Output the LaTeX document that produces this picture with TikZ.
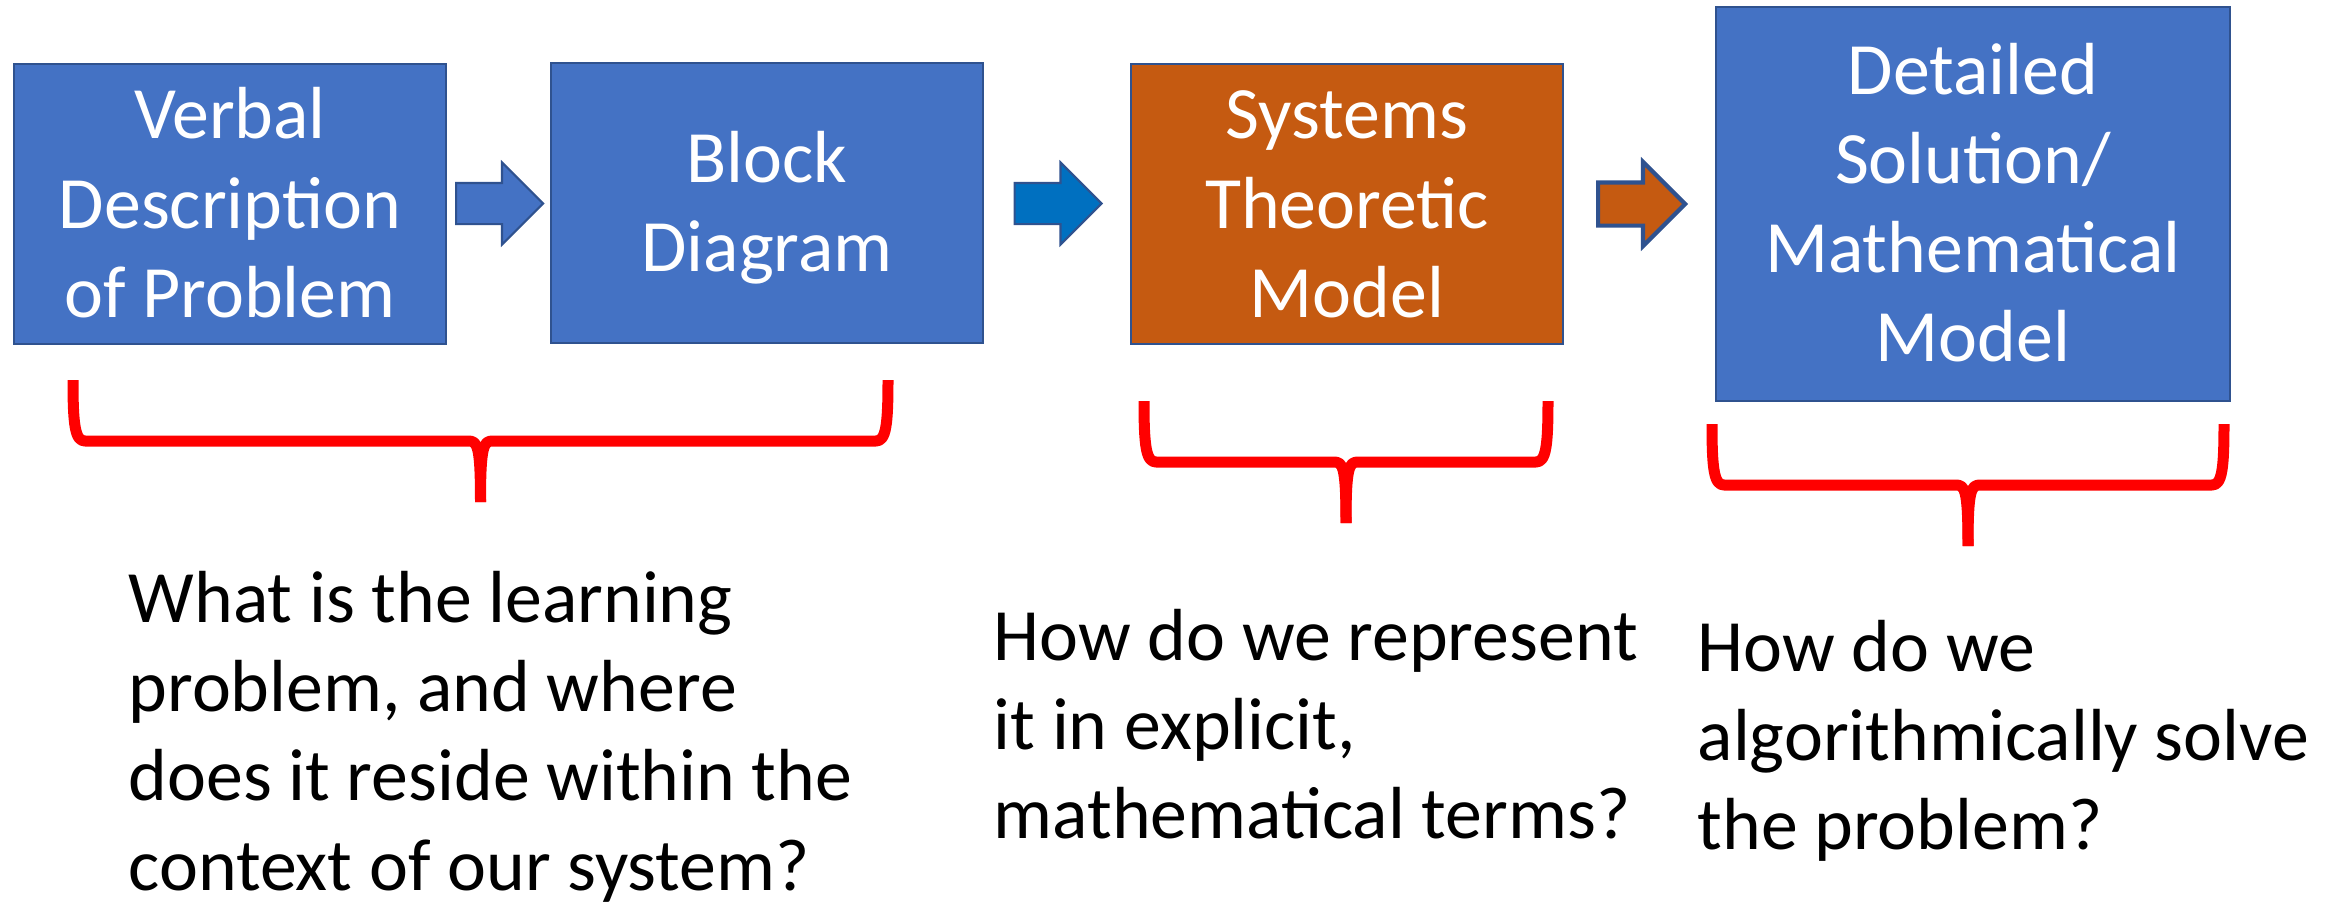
\documentclass[tikz,border=0pt]{standalone}
\usepackage{fontspec}
\setmainfont{Carlito}
\usepackage{tikz}
\usetikzlibrary{shapes.arrows, calc}
\definecolor{boxblue}{HTML}{4472C4}
\definecolor{edgeblue}{HTML}{2F528F}
\definecolor{boxorange}{HTML}{C55A11}
\definecolor{arrowblue}{HTML}{0070C0}
\newcommand{\lstrut}{\rule[-5pt]{0pt}{23.66pt}}
\newcommand{\redbrace}[3]{%
  \draw[curly] (#1,#3) .. controls (#1,{#3+45}) and ({#1+2},{#3+61}) .. ({#1+12},{#3+61})
    -- ({(#1+#2)/2-12},{#3+61}) .. controls ({(#1+#2)/2-3},{#3+61}) and ({(#1+#2)/2},{#3+66}) .. ({(#1+#2)/2},{#3+122});
  \draw[curly] (#2,#3) .. controls (#2,{#3+45}) and ({#2-2},{#3+61}) .. ({#2-12},{#3+61})
    -- ({(#1+#2)/2+12},{#3+61}) .. controls ({(#1+#2)/2+3},{#3+61}) and ({(#1+#2)/2},{#3+66}) .. ({(#1+#2)/2},{#3+122});
}
\tikzset{
  txt/.style={font=\fontsize{21}{25.4}\selectfont, inner sep=0pt},
  stage/.style={txt, draw=edgeblue, line width=0.6pt, text=white, align=center},
  blockarrow/.style={single arrow, draw=edgeblue, line width=0.6pt, inner xsep=0pt, inner ysep=1.95mm,
    minimum height=8.7mm, single arrow head extend=2.05mm, anchor=tail},
  question/.style={txt, align=left, anchor=north west},
  curly/.style={draw=red, line width=1.1mm, line join=round}
}

\begin{document}
\begin{tikzpicture}[x=0.1mm, y=-0.1mm]
  \useasboundingbox (0,0) rectangle (2341,902);
  \node[stage, fill=boxblue, minimum width=43.2mm, minimum height=28mm] (verbal) at (230,204) {\lstrut Verbal\\Description\\of Problem\lstrut};
  \node[stage, fill=boxblue, minimum width=43.2mm, minimum height=28mm] (block) at (767,203) {\lstrut Block\\Diagram\lstrut};
  \node[stage, fill=boxorange, minimum width=43.2mm, minimum height=28mm] (theory) at (1347,204) {\lstrut Systems\\Theoretic\\Model\lstrut};
  \node[stage, fill=boxblue, minimum width=51.4mm, minimum height=39.4mm] (solution) at (1973,204) {\lstrut Detailed\\Solution/\\Mathematical\\Model\lstrut};

  \node[blockarrow, fill=boxblue] (arr1) at ($(verbal.east)!0.5!(block.west)+(-43.5,0)$) {};
  \node[blockarrow, fill=arrowblue] (arr2) at ($(block.east)!0.5!(theory.west)+(-43.5,0)$) {};
  \node[blockarrow, fill=boxorange, line width=1.2pt] (arr3) at ($(theory.east)!0.5!(solution.west)+(-43.5,0)$) {};

  \redbrace{73}{888}{380}
  \redbrace{1144}{1548}{401}
  \redbrace{1712}{2224}{424}

  \node[question] (qlearn) at (128,556) {\lstrut What is the learning\\problem, and where\\does it reside within the\\context of our system?};
  \node[question] (qrep) at (993,594) {\lstrut How do we represent\\it in explicit,\\mathematical terms?};
  \node[question] (qsolve) at (1697,605) {\lstrut How do we\\algorithmically solve\\the problem?};
\end{tikzpicture}
\end{document}
